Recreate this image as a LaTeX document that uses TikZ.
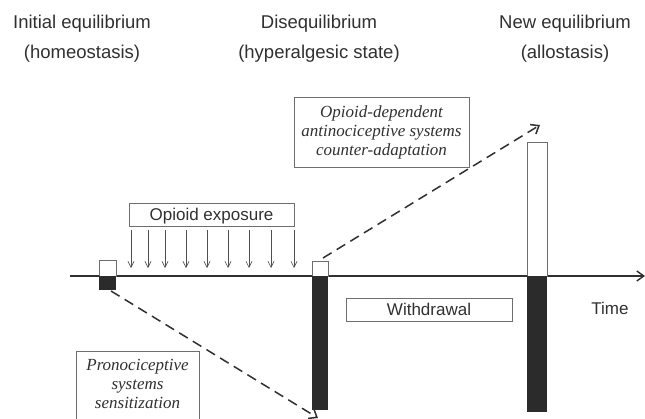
\documentclass[tikz,border=0pt]{standalone}
\usepackage{fontspec}
\setmainfont{Liberation Serif}
\setsansfont{Liberation Sans}
\usepackage[]{tikz}
\usetikzlibrary{positioning}
\usetikzlibrary{arrows.meta}
\definecolor{inkgray}{HTML}{303030}
\definecolor{boxgray}{HTML}{6E6E6E}
\definecolor{bardark}{HTML}{2B2B2B}

\begin{document}
\begin{tikzpicture}[x=1pt,y=-1pt, %按像素坐标,y向下
    heading/.style={font=\sffamily\fontsize{18.5}{22}\selectfont,text=inkgray,inner sep=0pt,anchor=base},
    sansbox/.style={draw=boxgray,line width=0.8pt,font=\sffamily\fontsize{17}{20}\selectfont,text=inkgray,
        inner sep=0pt,text height=12.4pt,text depth=0pt},
    itbox/.style={draw=boxgray,line width=0.8pt,font=\itshape\fontsize{17}{19}\selectfont,text=inkgray,
        align=center,inner sep=0pt},
    barline/.style={draw=boxgray,line width=0.7pt},
    dasharr/.style={draw=inkgray,line width=1.5pt,dash pattern=on 10pt off 6pt,-{Straight Barb[length=7pt,width=11pt]}},
    drop/.style={draw=inkgray!85,line width=0.6pt,-{Straight Barb[length=6pt,width=6pt]}}]
            \clip (0,0) rectangle (645,418);
            % 标题
            \node[heading] (ini1) at (82,28) {Initial equilibrium};
            \node[heading] (ini2) at (82,58) {(homeostasis)};
            \node[heading] (dis1) at (319,28) {Disequilibrium};
            \node[heading] (dis2) at (319,58) {(hyperalgesic state)};
            \node[heading] (new1) at (565,28) {New equilibrium};
            \node[heading] (new2) at (565,58) {(allostasis)};
            % 时间轴
            \coordinate (t0) at (70,276);
            \coordinate (t1) at (645,276);
            \draw[draw=inkgray,line width=1.4pt,-{Straight Barb[length=7pt,width=10pt]}] (t0)--(t1);
            \node[heading,font=\sffamily\fontsize{17}{20}\selectfont] (time) at (610,314) {Time};
            % 柱子
            \draw[barline,fill=white] (99,260) rectangle (116,276);
            \fill[bardark] (99,276) rectangle (116,290);
            \draw[barline,fill=white] (312,261) rectangle (328,276);
            \fill[bardark] (312,276) rectangle (328,410);
            \draw[barline,fill=white] (527,142) rectangle (547,276);
            \fill[bardark] (527,276) rectangle (547,412);
            % 文本框
            \node[sansbox,minimum width=165pt,minimum height=23pt] (expo) at (211.5,214.5) {Opioid exposure};
            \node[sansbox,minimum width=166pt,minimum height=23pt] (wdraw) at (429,309.5) {Withdrawal};
            \node[itbox,minimum width=175pt,minimum height=70pt] (anti) at (381.5,132)
                {Opioid-dependent\\antinociceptive systems\\counter-adaptation};
            \node[itbox,anchor=north,minimum width=123pt,inner ysep=8pt,text depth=9pt] (pro) at (137.5,351)
                {Pronociceptive\\systems\\sensitization};
            % 给药箭头
            \draw[drop] (131,230)--(131,268);
            \draw[drop] (148,230)--(148,268);
            \draw[drop] (165,230)--(165,268);
            \draw[drop] (186,230)--(186,268);
            \draw[drop] (207,230)--(207,268);
            \draw[drop] (228,230)--(228,268);
            \draw[drop] (249,230)--(249,268);
            \draw[drop] (271,230)--(271,268);
            \draw[drop] (294,230)--(294,268);
            % 虚线箭头
            \coordinate (a1) at (111,291);
            \coordinate (a2) at (318,418);
            \draw[dasharr] (a1)--(a2);
            \coordinate (b1) at (323,258);
            \coordinate (b2) at (540,125);
            \draw[dasharr] (b1)--(b2);
        \end{tikzpicture}
\end{document}
